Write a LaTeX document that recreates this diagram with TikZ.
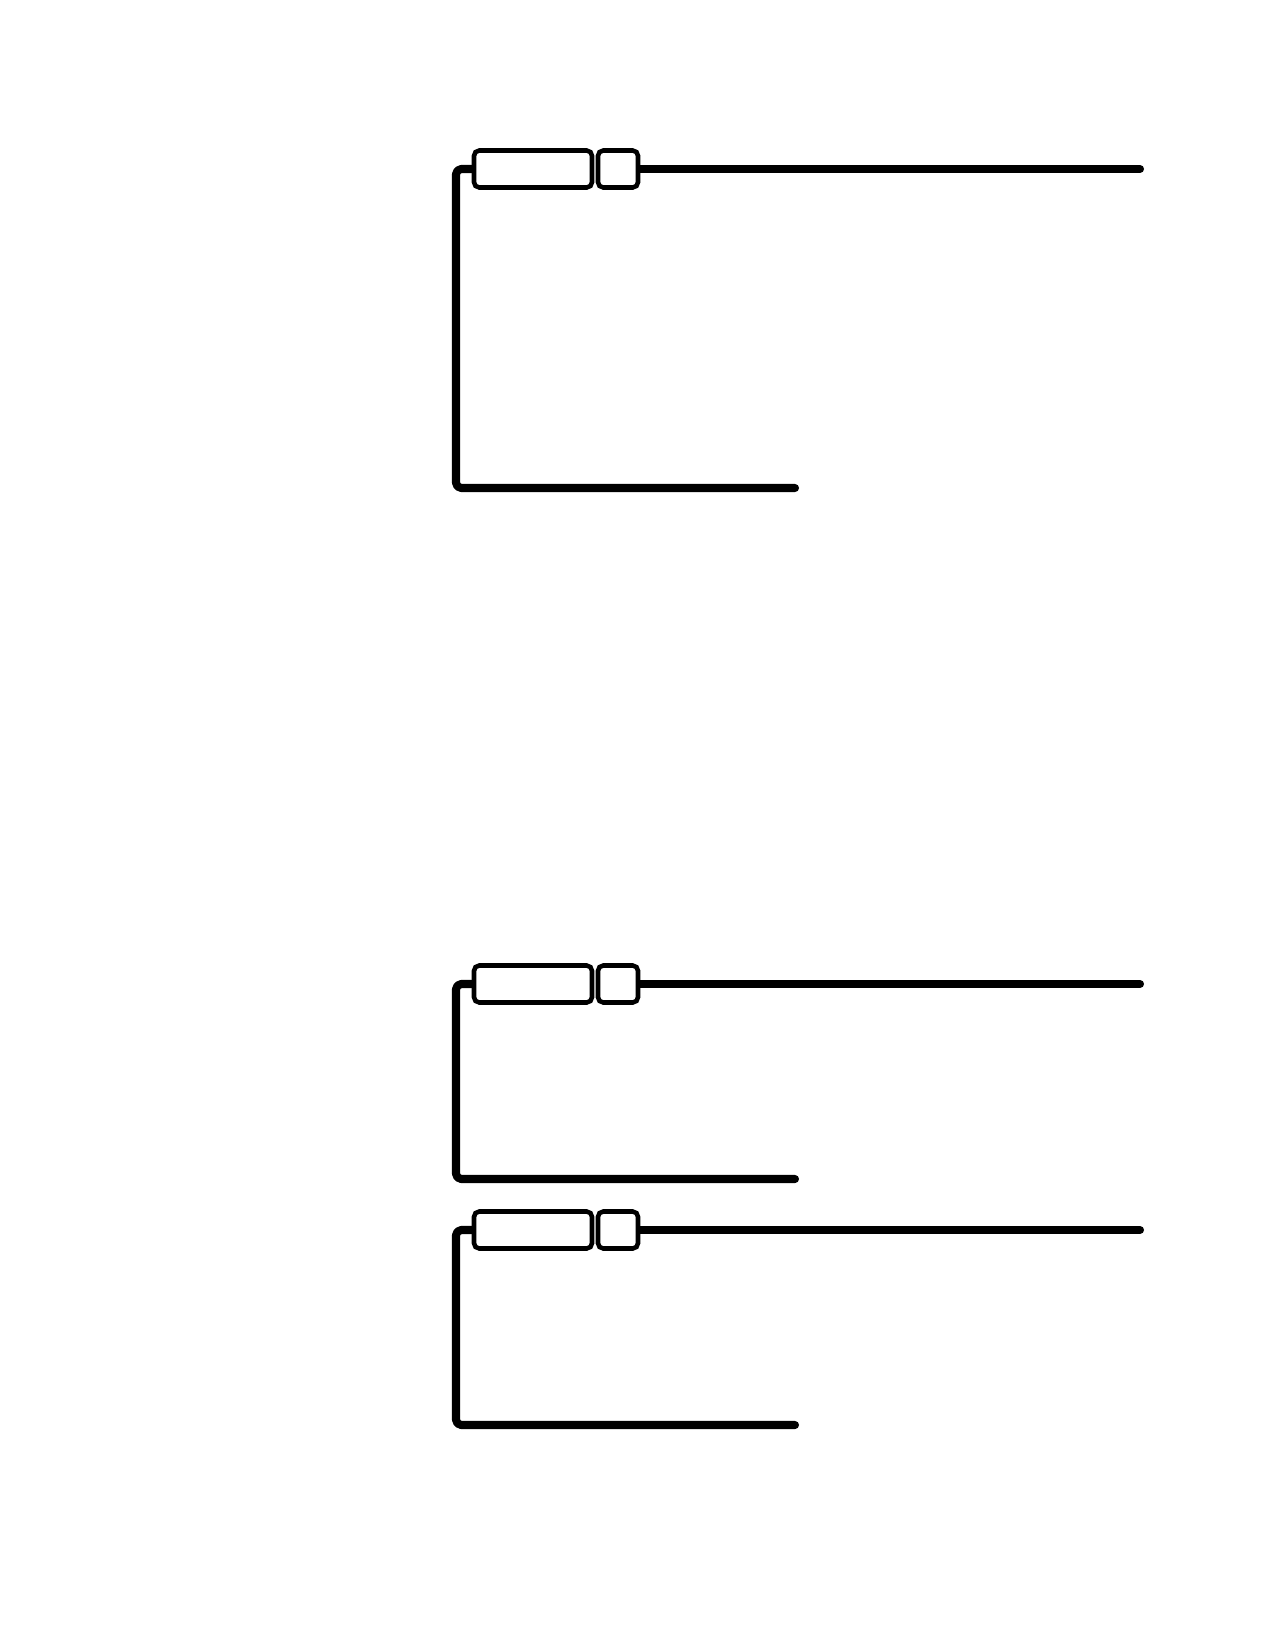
\documentclass[tikz,border=0pt]{standalone}
\begin{document}
\begin{tikzpicture}[x=0.02cm,y=-0.02cm,
  wire/.style={line width=4.6pt,line cap=round,line join=round,rounded corners=3pt},
  longbox/.style={draw,line width=2.6pt,rounded corners=3pt,fill=white,minimum width=2.36cm,minimum height=0.74cm,inner sep=0pt},
  shortbox/.style={draw,line width=2.6pt,rounded corners=3pt,fill=white,minimum width=0.8cm,minimum height=0.74cm,inner sep=0pt}]
\useasboundingbox (0,0) rectangle (1275,1651);
\foreach \i/\top/\bot in {1/169/488, 2/984/1179, 3/1230/1425}{
  % two-part connector head
  \node[longbox] (a\i) at (533,\top) {};
  \node[shortbox] (b\i) at (618,\top) {};
  \coordinate (r\i) at (1140,\top);
  \coordinate (l\i) at (795,\bot);
  % long lead to the right
  \draw[wire] (b\i.east) -- (r\i);
  % return lead around the left side
  \draw[wire] (a\i.west) -- (456,\top) -- (456,\bot) -- (l\i);
}
\end{tikzpicture}
\end{document}
